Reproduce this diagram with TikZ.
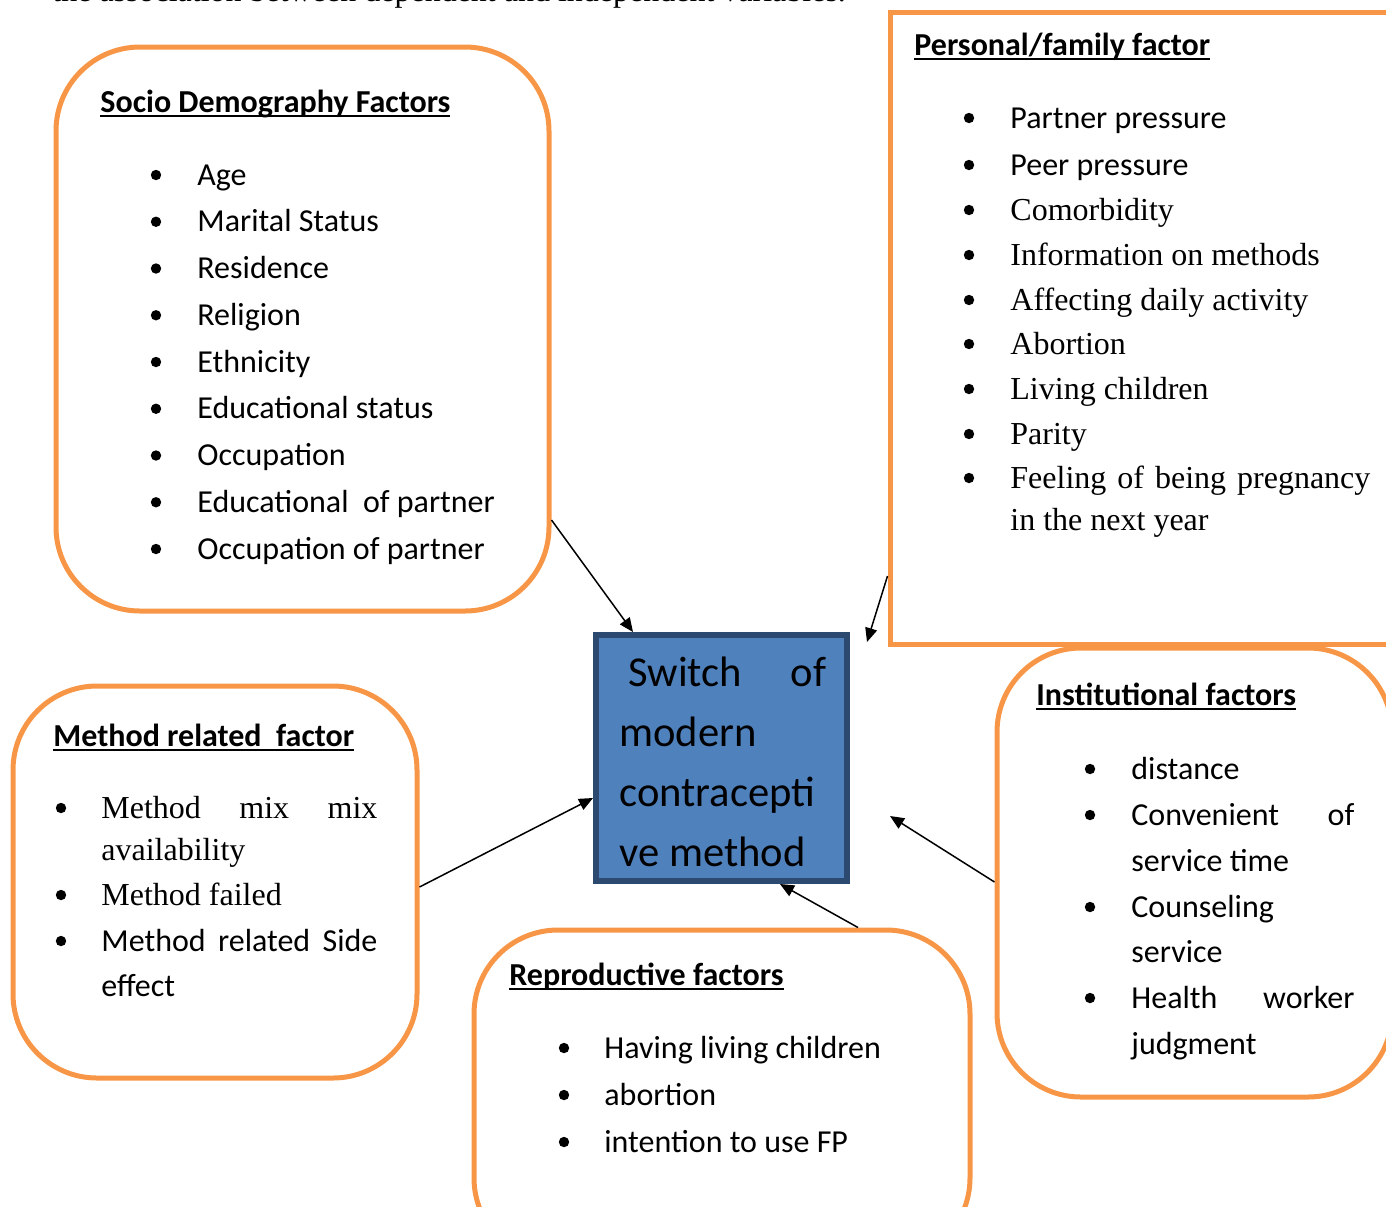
\documentclass[tikz,border=0pt]{standalone}
\usepackage{fontspec}
\setmainfont{Liberation Serif}
\setsansfont{Carlito}
\usetikzlibrary{arrows.meta,fit,calc}

\definecolor{boxorange}{HTML}{F79646}
\definecolor{boxblue}{HTML}{4F81BD}
\definecolor{boxedge}{HTML}{2C4A70}
\newcommand{\uln}[1]{\setbox0=\hbox{#1}\rlap{\rule[-2.6pt]{\wd0}{0.9pt}}\box0}
\newcommand{\jst}[2]{\makebox[#1][s]{#2}}

\begin{document}
\begin{tikzpicture}[x=0.5pt, y=-0.5pt,
    obox/.style={draw=boxorange, line width=2.5pt, rounded corners=42pt, inner sep=0pt},
    sbox/.style={draw=boxorange, line width=2.5pt, inner sep=0pt},
    cbox/.style={draw=boxedge, fill=boxblue, line width=3pt, inner sep=0pt},
    head/.style={anchor=base west, inner sep=0pt, font=\sffamily\bfseries\fontsize{16}{19}\selectfont},
    item/.style={anchor=base west, inner sep=0pt, font=\sffamily\fontsize{16}{19}\selectfont},
    ritem/.style={anchor=base west, inner sep=0pt, font=\rmfamily\fontsize{16}{19}\selectfont},
    big/.style={anchor=base west, inner sep=0pt, font=\sffamily\fontsize{21.3}{25}\selectfont},
    arr/.style={-{Triangle[length=7pt,width=6pt]}, line width=0.75pt}]
    \useasboundingbox (0,0) rectangle (1386,1206);
    \clip (0,0) rectangle (1386,1206);

    \node[ritem] (cap) at (52,1) {the association between dependent and independent variables.};

    % boxes
    \node[obox, fit={(56,47) (549,611)}] (socio) {};
    \node[sbox, fit={(890,12) (1420,644)}] (personal) {};
    \node[obox, fit={(13,686) (417,1078)}] (method) {};
    \node[obox, fit={(997,648) (1392,1097)}] (inst) {};
    \node[obox, fit={(474,930) (970,1262)}] (repro) {};
    \node[cbox, fit={(596,635) (847,881)}] (centre) {};

    \node[big] (c1) at (628,686) {\jst{99pt}{Switch of}};
    \node[big] (c2) at (619,746) {modern};
    \node[big] (c3) at (619,806) {contracepti};
    \node[big] (c4) at (619,866) {ve method};

    % socio demography
    \node[head] (st) at (100,112) {\uln{Socio Demography Factors}};
    \foreach \t [count=\i] in {Age, Marital Status, Residence, Religion, Ethnicity, Educational status, Occupation, Educational\ \ of partner, Occupation of partner} {
        \fill (156,{175+46.75*(\i-1)}) circle (2.6pt);
        \node[item] (s\i) at (197,{185+46.75*(\i-1)}) {\t};
    }

    % personal/family
    \node[head] (pt) at (914,55) {\uln{Personal/family factor}};
    \foreach \y/\t [count=\i] in {118/\sffamily Partner pressure, 165/\sffamily Peer pressure, 210/Comorbidity, 255/Information on methods, 300/Affecting daily activity, 344/Abortion, 389/Living children, 434/Parity, 478/\jst{180pt}{Feeling of being pregnancy}} {
        \fill (969,\y) circle (2.6pt);
        \node[ritem] (p\i) at (1010,{\y+10}) {\t};
    }
    \node[ritem] (p10) at (1010,530) {in the next year};

    % method related
    \node[head] (mt) at (53,746) {\uln{Method related\ \ factor}};
    \foreach \y in {808,895,941} \fill (61,\y) circle (2.6pt);
    \node[ritem] (m1) at (101,818) {\jst{138pt}{Method mix mix}};
    \node[ritem] (m2) at (101,860) {availability};
    \node[ritem] (m3) at (101,905) {Method failed};
    \node[item] (m4) at (101,951) {\jst{138pt}{Method related Side}};
    \node[item] (m5) at (101,996) {effect};

    % institutional
    \node[head] (it) at (1036,705) {\uln{Institutional factors}};
    \foreach \y in {769,815,907,998} \fill (1090,\y) circle (2.6pt);
    \node[item] (i1) at (1131,779) {distance};
    \node[item] (i2) at (1131,825) {\jst{111.5pt}{Convenient of}};
    \node[item] (i3) at (1131,871) {service time};
    \node[item] (i4) at (1131,917) {Counseling};
    \node[item] (i5) at (1131,962) {service};
    \node[item] (i6) at (1131,1008) {\jst{111.5pt}{Health worker}};
    \node[item] (i7) at (1131,1054) {judgment};

    % reproductive
    \node[head] (rt) at (509,985) {\uln{Reproductive factors}};
    \foreach \t [count=\i] in {Having living children, abortion, intention to use FP} {
        \fill (564,{1048+47*(\i-1)}) circle (2.6pt);
        \node[item] (r\i) at (604,{1058+47*(\i-1)}) {\t};
    }

    % arrows
    \draw[arr] (socio.east |- 0,520) -- (centre.north -| 633,0);
    \draw[arr] (personal.west |- 0,576) -- ($(centre.north east)+(17,10)$);
    \draw[arr] (method.east |- 0,887) -- (centre.west |- 0,798);
    \draw[arr] (inst.west |- 0,882) -- ($(centre.east)+(40,58)$);
    \draw[arr] (repro.north -| 858,0) -- (centre.south -| 780,0);
\end{tikzpicture}
\end{document}
